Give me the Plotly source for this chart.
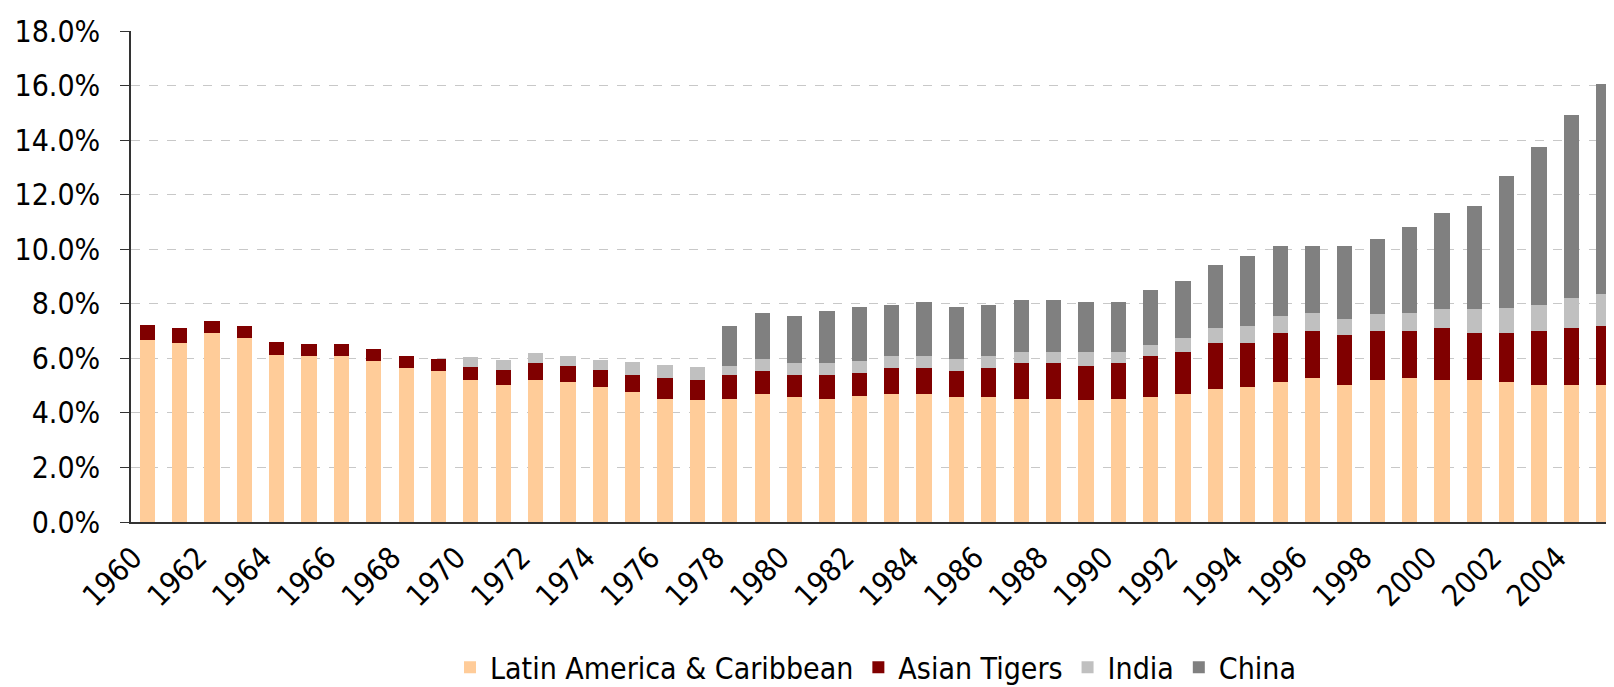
import plotly.graph_objects as go

years = [str(y) for y in range(1960, 2006)]

# share of world output (%)
latin_america = [6.68, 6.57, 6.93, 6.75, 6.14, 6.07, 6.07, 5.89, 5.63, 5.53,
                 5.21, 5.03, 5.21, 5.14, 4.95, 4.78, 4.52, 4.46, 4.52, 4.71,
                 4.60, 4.52, 4.63, 4.71, 4.71, 4.60, 4.60, 4.52, 4.52, 4.46,
                 4.52, 4.60, 4.71, 4.88, 4.95, 5.14, 5.28, 5.03, 5.21, 5.28,
                 5.21, 5.21, 5.14, 5.03, 5.03, 5.03]
asian_tigers = [0.54, 0.53, 0.43, 0.43, 0.47, 0.47, 0.47, 0.47, 0.47, 0.46,
                0.49, 0.54, 0.61, 0.57, 0.62, 0.61, 0.76, 0.75, 0.87, 0.82,
                0.79, 0.87, 0.83, 0.92, 0.92, 0.93, 1.03, 1.30, 1.30, 1.25,
                1.30, 1.47, 1.54, 1.69, 1.62, 1.79, 1.73, 1.83, 1.80, 1.73,
                1.89, 1.72, 1.79, 1.98, 2.07, 2.15]
india = [0, 0, 0, 0, 0, 0, 0, 0, 0, 0,
         0.36, 0.36, 0.36, 0.36, 0.36, 0.47, 0.47, 0.46, 0.32, 0.46,
         0.43, 0.43, 0.43, 0.44, 0.44, 0.46, 0.44, 0.43, 0.43, 0.54,
         0.43, 0.43, 0.50, 0.53, 0.61, 0.61, 0.67, 0.58, 0.60, 0.67,
         0.70, 0.87, 0.93, 0.96, 1.13, 1.18]
china = [0, 0, 0, 0, 0, 0, 0, 0, 0, 0,
         0, 0, 0, 0, 0, 0, 0, 0, 1.47, 1.66,
         1.72, 1.90, 2.00, 1.90, 2.01, 1.90, 1.90, 1.90, 1.90, 1.83,
         1.83, 2.01, 2.08, 2.34, 2.58, 2.58, 2.44, 2.68, 2.77, 3.13,
         3.54, 3.79, 4.84, 5.78, 6.69, 7.68]

tick_years = years[::2]
y_ticks = [0, 2, 4, 6, 8, 10, 12, 14, 16, 18]
y_labels = [f"{v:.1f}%" for v in y_ticks]

series = [
    ("Latin America & Caribbean", latin_america, "#FFCC99"),
    ("Asian Tigers", asian_tigers, "#800000"),
    ("India", india, "#C0C0C0"),
    ("China", china, "#808080"),
]

fig = go.Figure()
for name, vals, col in series:
    fig.add_trace(go.Bar(x=years, y=vals, name=name, marker_color=col,
                         marker_line_width=0))

fig.update_layout(
    barmode="stack",
    bargap=0.53,
    width=1614, height=687,
    margin=dict(l=123, r=2, t=23, b=162),
    plot_bgcolor="white",
    paper_bgcolor="white",
    font=dict(family="DejaVu Sans Condensed", size=30, color="black"),
    legend=dict(orientation="h", x=0.5, xanchor="center", y=-0.296, yanchor="middle",
                font=dict(size=30), traceorder="normal", itemwidth=30),
)
fig.update_xaxes(
    type="category", tickmode="array", tickvals=tick_years, ticktext=tick_years,
    tickangle=-45, showline=True, linecolor="#333333", linewidth=2,
    showgrid=False, ticks="", ticklabelstandoff=4, ticklabelshift=-14,
)
fig.update_yaxes(
    range=[0, 18], tickvals=y_ticks, ticktext=y_labels,
    showline=True, linecolor="#333333", linewidth=1.5,
    ticks="outside", ticklen=9, tickcolor="#333333", ticklabelstandoff=14,
    showgrid=True, gridcolor="#C8C8C8", griddash="dash", gridwidth=1,
    zeroline=False,
)

fig.write_html("out.html")
